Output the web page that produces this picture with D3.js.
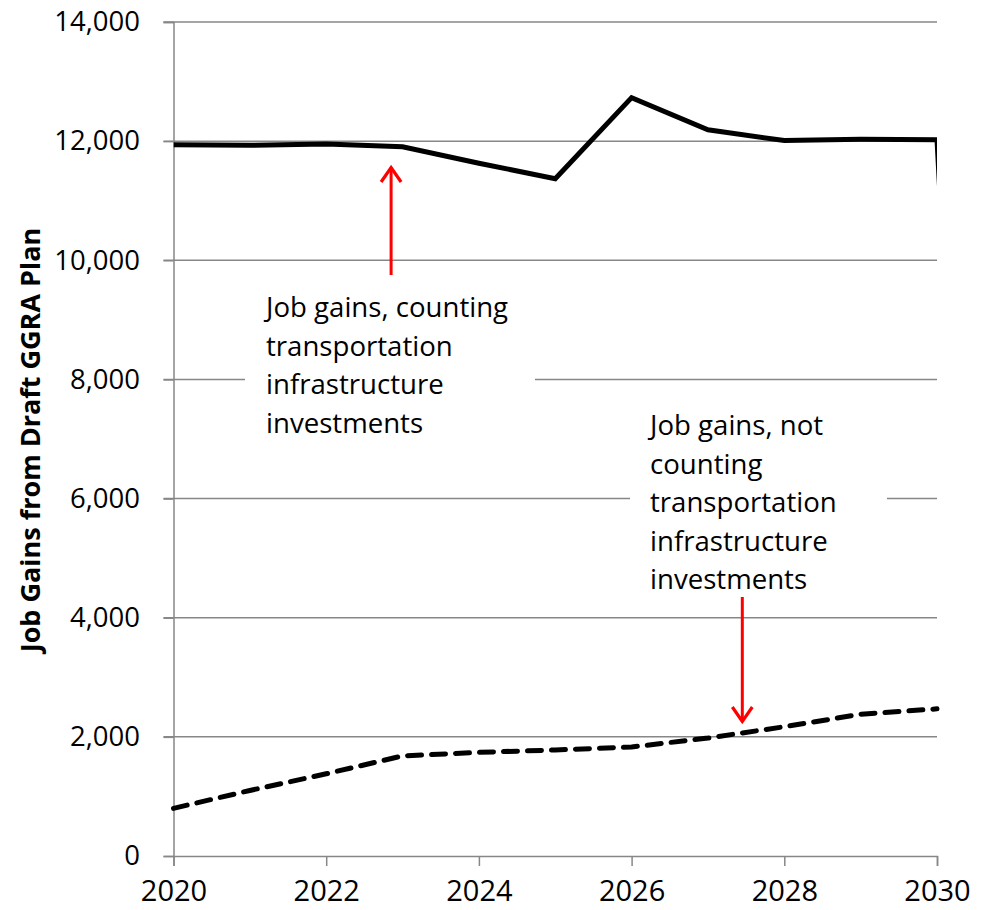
<!DOCTYPE html>
<html><head><meta charset="utf-8">
<script src="https://cdn.jsdelivr.net/npm/d3@7"></script>
<style>body{margin:0;background:#fff}svg{display:block}</style>
</head><body>
<svg id="c" width="984" height="910"></svg>
<script>
const years = [2020,2021,2022,2023,2024,2025,2026,2027,2028,2029,2030,2031];
const withTransport = [11940,11930,11950,11905,11630,11370,12730,12190,12010,12030,12025,-12000];
const yearsNo = [2020,2021,2022,2023,2024,2025,2026,2027,2028,2029,2030];
const withoutTransport = [800,1100,1380,1680,1740,1780,1830,1980,2170,2380,2470];
const xTicks = [2020,2022,2024,2026,2028,2030];
const yTicks = [0,2000,4000,6000,8000,10000,12000,14000];
const yTitle = "Job Gains from Draft GGRA Plan";
const note1 = ["Job gains, counting","transportation","infrastructure","investments"];
const note2 = ["Job gains, not","counting","transportation","infrastructure","investments"];

const svg = d3.select("#c");
const L = 173.5, R = 937, T = 22, B = 856;
const x = d3.scaleLinear().domain([2020,2030]).range([L,R]);
const y = d3.scaleLinear().domain([0,14000]).range([B,T]);
const font = "'Open Sans', sans-serif";
const grey = "#878787";

// gridlines
svg.append("g").selectAll("line").data(yTicks.filter(d=>d>0)).join("line")
  .attr("x1",L-10).attr("x2",R).attr("y1",d=>y(d)).attr("y2",d=>y(d))
  .attr("stroke",grey).attr("stroke-width",1.5);

// y axis
const ya = svg.append("g").attr("transform",`translate(${L},0)`)
  .call(d3.axisLeft(y).tickValues(yTicks).tickSize(10).tickFormat(d3.format(",")).tickPadding(23.5));
ya.select(".domain").attr("stroke",grey).attr("stroke-width",1.5);
ya.selectAll(".tick line").attr("stroke",grey).attr("stroke-width",1.5);
ya.selectAll("text").attr("font-family",font).attr("font-size",27.5).attr("fill","#000");

// x axis
const xa = svg.append("g").attr("transform",`translate(0,${B})`)
  .call(d3.axisBottom(x).tickValues(xTicks).tickSize(10).tickFormat(d3.format("d")).tickPadding(14));
xa.select(".domain").attr("stroke",grey).attr("stroke-width",1.5);
xa.selectAll(".tick line").attr("stroke",grey).attr("stroke-width",1.5);
xa.selectAll("text").attr("font-family",font).attr("font-size",29).attr("fill","#000");

// y title
svg.append("text").attr("transform",`translate(40,440) rotate(-90)`)
  .attr("text-anchor","middle").attr("font-family",font).attr("font-weight","bold")
  .attr("font-size",27).attr("fill","#000").text(yTitle);

// clip
svg.append("clipPath").attr("id","pc").append("rect")
  .attr("x",L).attr("y",0).attr("width",R-L).attr("height",B);

const line = d3.line().x(d=>x(d[0])).y(d=>y(d[1]));
svg.append("path").attr("clip-path","url(#pc)")
  .datum(years.map((d,i)=>[d,withTransport[i]]))
  .attr("d",line).attr("fill","none").attr("stroke","#000").attr("stroke-width",5)
  .attr("stroke-linejoin","miter");
svg.append("path")
  .datum(yearsNo.map((d,i)=>[d,withoutTransport[i]]))
  .attr("d",line).attr("fill","none").attr("stroke","#000").attr("stroke-width",5)
  .attr("stroke-dasharray","14,10").attr("stroke-linecap","round");

// annotation boxes
function note(lines, tx, ty, bx, bw, bh) {
  svg.append("rect").attr("x",bx).attr("y",ty-32).attr("width",bw).attr("height",bh).attr("fill","#fff");
  const t = svg.append("text").attr("font-family",font).attr("font-size",27.6).attr("fill","#000");
  lines.forEach((s,i)=>t.append("tspan").attr("x",tx).attr("y",ty+i*38.5).text(s));
}
note(note1, 266, 317, 245, 290, 150);
note(note2, 650, 435, 630, 257, 190);

// arrows
function arrow(xv, y1, y2) {
  const xp = x(xv), dir = y2 < y1 ? 1 : -1;
  svg.append("line").attr("x1",xp).attr("x2",xp).attr("y1",y1).attr("y2",y2 + dir*1.5)
    .attr("stroke","#f00").attr("stroke-width",3);
  svg.append("path")
    .attr("d",`M${xp-10},${y2+dir*16} L${xp},${y2+dir*1.5} L${xp+10},${y2+dir*16}`)
    .attr("fill","none").attr("stroke","#f00").attr("stroke-width",3.2);
}
arrow(2022.85, 275, 166);
arrow(2027.45, 597, 723);
</script>
</body></html>
